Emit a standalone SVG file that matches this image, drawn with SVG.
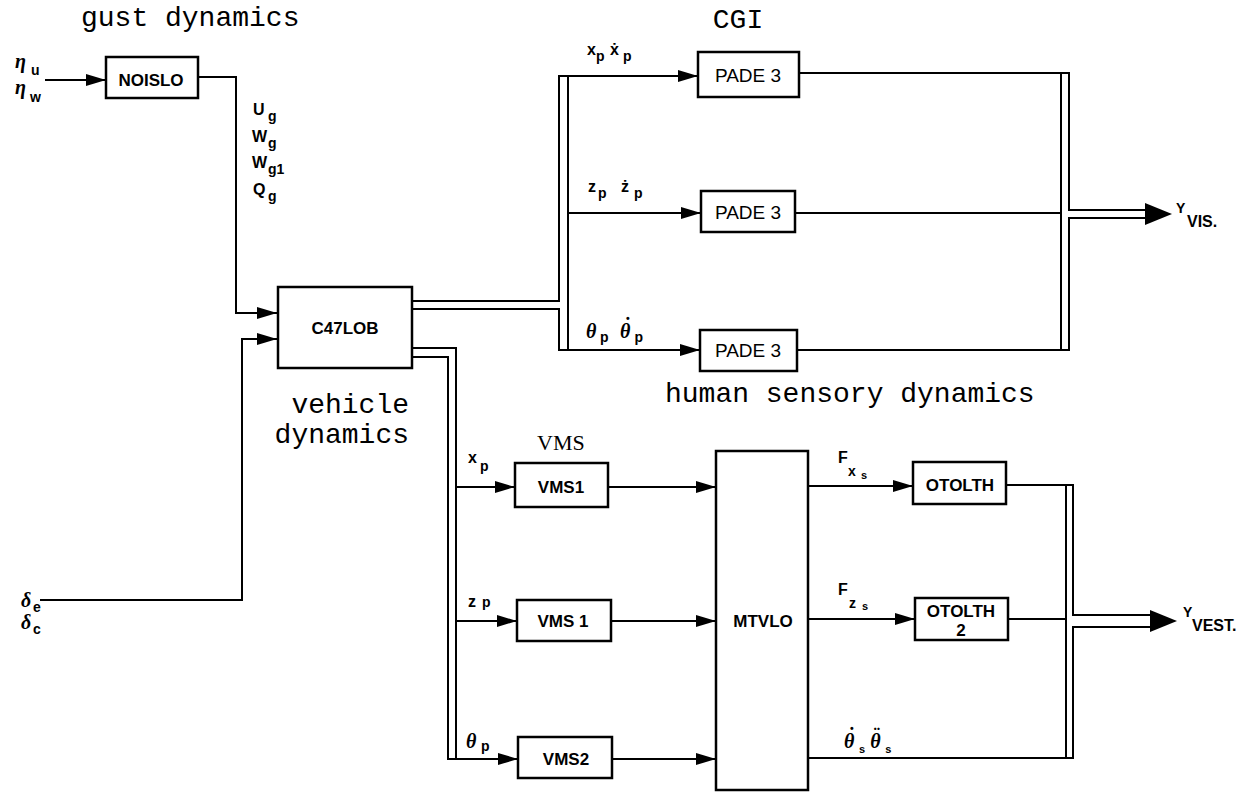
<svg xmlns="http://www.w3.org/2000/svg" width="1254" height="793" viewBox="0 0 1254 793">
<defs>
<style>
.box{fill:#fff;stroke:#000;stroke-width:2.5}
.ln{fill:none;stroke:#000;stroke-width:2}
.lbl{font-family:"Liberation Sans",Arial,sans-serif;font-weight:bold;font-size:17px;text-anchor:middle;fill:#000}
.pade{font-family:"Liberation Sans",Arial,sans-serif;font-size:19px;text-anchor:middle;fill:#000}
.mono{font-family:"Liberation Mono","Courier New",monospace;font-size:28px;fill:#000}
.serif{font-family:"Liberation Serif","Times New Roman",serif;font-size:22px;fill:#000}
.m{font-family:"Liberation Sans",Arial,sans-serif;font-weight:bold;font-size:16px;fill:#000}
.s{font-family:"Liberation Sans",Arial,sans-serif;font-weight:bold;font-size:14px;font-style:normal;fill:#000}
.ss{font-family:"Liberation Sans",Arial,sans-serif;font-weight:bold;font-size:11px;font-style:normal;fill:#000}
.g{font-family:"Liberation Serif","Times New Roman",serif;font-style:italic;font-weight:bold;font-size:20px;fill:#000}
.dot{font-family:"Liberation Serif","Times New Roman",serif;font-style:normal;font-weight:bold;font-size:20px;fill:#000}
</style>
<marker id="ah" viewBox="0 0 20 12" refX="20" refY="6" markerWidth="20" markerHeight="12" markerUnits="userSpaceOnUse" orient="auto">
<path d="M0,0 L20,6 L0,12 z" fill="#000"/>
</marker>
</defs>
<rect width="1254" height="793" fill="#fff"/>

<!-- captions -->
<text class="mono" x="81" y="26">gust dynamics</text>
<text class="mono" x="738" y="28" text-anchor="middle" font-size="27">CGI</text>
<text class="mono" x="409" y="413" text-anchor="end">vehicle</text>
<text class="mono" x="409" y="443" text-anchor="end">dynamics</text>
<text class="mono" x="665" y="402" font-size="32">human sensory dynamics</text>
<text class="serif" x="537" y="450">VMS</text>

<!-- connectors -->
<g id="connectors">
<path class="ln" d="M45,80 H106" marker-end="url(#ah)"/>
<path class="ln" d="M198,77 H236 V313 H277" marker-end="url(#ah)"/>
<path class="ln" d="M40,600 H242 V339 H277" marker-end="url(#ah)"/>
<!-- CGI bus -->
<path class="ln" d="M412,301 H559 V76 H698" marker-end="url(#ah)"/>
<path class="ln" d="M412,309 H559 V350 H700" marker-end="url(#ah)"/>
<path class="ln" d="M568,76 V350"/>
<path class="ln" d="M568,213 H701" marker-end="url(#ah)"/>
<!-- visual output bus -->
<path class="ln" d="M799,73 H1069 V210 H1150"/>
<path class="ln" d="M1061,73 V350"/>
<path class="ln" d="M797,350 H1069 V218 H1150"/>
<path class="ln" d="M795,213 H1061"/>
<polygon points="1145,203 1172,214 1145,225" fill="#000"/>
<!-- VMS bus -->
<path class="ln" d="M412,348 H456 V759"/>
<path class="ln" d="M412,357 H448 V759 H518" marker-end="url(#ah)"/>
<path class="ln" d="M456,487 H515" marker-end="url(#ah)"/>
<path class="ln" d="M456,621 H517" marker-end="url(#ah)"/>
<path class="ln" d="M608,487 H716" marker-end="url(#ah)"/>
<path class="ln" d="M611,621 H716" marker-end="url(#ah)"/>
<path class="ln" d="M612,759 H716" marker-end="url(#ah)"/>
<!-- MTVLO outputs -->
<path class="ln" d="M808,486 H913" marker-end="url(#ah)"/>
<path class="ln" d="M808,619 H915" marker-end="url(#ah)"/>
<!-- vestibular output bus -->
<path class="ln" d="M1006,485 H1073 V615 H1152"/>
<path class="ln" d="M1066,485 V758"/>
<path class="ln" d="M808,758 H1073 V627 H1152"/>
<path class="ln" d="M1008,619 H1066"/>
<polygon points="1150,610 1177,621 1150,632" fill="#000"/>
</g>

<!-- nodes -->
<g id="NOISLO"><rect class="box" x="106" y="57" width="92" height="41"/><text class="lbl" x="151" y="86">NOISLO</text></g>
<g id="C47LOB"><rect class="box" x="278" y="287" width="134" height="81"/><text class="lbl" x="345" y="334">C47LOB</text></g>
<g id="PADE3a"><rect class="box" x="698" y="52" width="101" height="45"/><text class="pade" x="748" y="82">PADE 3</text></g>
<g id="PADE3b"><rect class="box" x="701" y="191" width="94" height="41"/><text class="pade" x="748" y="219">PADE 3</text></g>
<g id="PADE3c"><rect class="box" x="700" y="330" width="97" height="41"/><text class="pade" x="748" y="357">PADE 3</text></g>
<g id="VMS1a"><rect class="box" x="515" y="463" width="93" height="44"/><text class="lbl" x="561" y="493">VMS1</text></g>
<g id="VMS1b"><rect class="box" x="517" y="600" width="94" height="41"/><text class="lbl" x="563" y="627">VMS 1</text></g>
<g id="VMS2"><rect class="box" x="518" y="737" width="94" height="41"/><text class="lbl" x="566" y="765">VMS2</text></g>
<g id="MTVLO"><rect class="box" x="716" y="451" width="92" height="339"/><text class="lbl" x="763" y="627">MTVLO</text></g>
<g id="OTOLTH"><rect class="box" x="913" y="462" width="93" height="42"/><text class="lbl" x="960" y="491">OTOLTH</text></g>
<g id="OTOLTH2"><rect class="box" x="915" y="598" width="93" height="42"/><text class="lbl" x="961" y="617">OTOLTH</text><text class="lbl" x="961" y="636">2</text></g>

<!-- signal labels -->
<g id="labels">
<text class="g" x="15" y="68">η</text><text class="s" x="31" y="75">u</text>
<text class="g" x="15" y="94">η</text><text class="s" x="30" y="102">w</text>
<text class="m" x="253" y="115">U</text><text class="s" x="268" y="121">g</text>
<text class="m" x="252" y="142">W</text><text class="s" x="268" y="148">g</text>
<text class="m" x="252" y="168">W</text><text class="s" x="268" y="174">g1</text>
<text class="m" x="253" y="195">Q</text><text class="s" x="268" y="201">g</text>
<text class="m" x="587" y="55">x</text><text class="s" x="596" y="61">p</text>
<text class="m" x="610" y="55">ẋ</text><text class="s" x="623" y="61">p</text>
<text class="m" x="588" y="192">z</text><text class="s" x="598" y="198">p</text>
<text class="m" x="621" y="192">ż</text><text class="s" x="634" y="198">p</text>
<text class="g" x="586" y="338">θ</text><text class="s" x="600" y="342">p</text>
<text class="g" x="620" y="338">θ<tspan class="dot" dx="-6" dy="-6">˙</tspan><tspan class="s" dx="3.5" dy="10">p</tspan></text>
<text class="m" x="468" y="463">x</text><text class="s" x="480" y="471">p</text>
<text class="m" x="468" y="607">z</text><text class="s" x="482" y="607">p</text>
<text class="g" x="466" y="748">θ</text><text class="s" x="481" y="751">p</text>
<text class="m" x="838" y="463">F</text><text class="s" x="848" y="476">x</text><text class="ss" x="861" y="479">s</text>
<text class="m" x="838" y="595">F</text><text class="s" x="849" y="608">z</text><text class="ss" x="862" y="610">s</text>
<text class="g" x="844" y="748">θ<tspan class="dot" dx="-6" dy="-6">˙</tspan><tspan class="ss" dx="4" dy="11">s</tspan><tspan class="g" dx="5" dy="-5">θ</tspan><tspan class="dot" dx="-7" dy="-6">¨</tspan><tspan class="ss" dx="5" dy="11">s</tspan></text>
<text class="g" x="21" y="607">δ</text><text class="s" x="33" y="612">e</text>
<text class="g" x="21" y="629">δ</text><text class="s" x="33" y="634">c</text>
<text class="s" x="1176" y="213" font-size="13">Y</text><text class="m" x="1187" y="227" font-size="15">VIS.</text>
<text class="s" x="1183" y="617" font-size="13">Y</text><text class="m" x="1192" y="631" font-size="15">VEST.</text>
</g>
</svg>
